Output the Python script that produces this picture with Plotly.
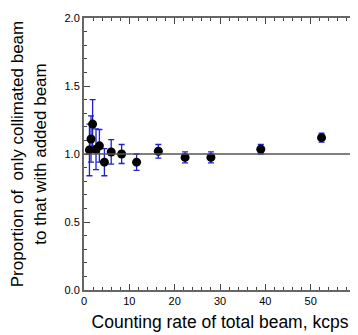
import plotly.graph_objects as go

rate_kcps = [1.2, 1.55, 1.9, 2.65, 3.4, 4.5, 6.0, 8.3, 11.6, 16.4, 22.3, 28.0, 39.0, 52.4]
proportion = [1.03, 1.11, 1.22, 1.035, 1.06, 0.94, 1.015, 1.0, 0.94, 1.02, 0.975, 0.975, 1.035, 1.12]
error = [0.19, 0.17, 0.18, 0.15, 0.12, 0.10, 0.09, 0.07, 0.06, 0.05, 0.04, 0.04, 0.035, 0.033]

fig = go.Figure()
fig.add_trace(go.Scatter(
    x=rate_kcps, y=proportion, mode="markers",
    marker=dict(color="black", size=9),
    error_y=dict(type="data", array=error, visible=True, color="#1f1fd0", thickness=1.3, width=3),
    showlegend=False,
))
fig.add_shape(type="line", xref="paper", yref="y", x0=0, x1=1, y0=1.0, y1=1.0,
              line=dict(color="#555555", width=1.5))

axis_common = dict(
    showline=True, linecolor="#666666", linewidth=2, mirror="ticks",
    ticks="inside", tickcolor="#444444", ticklen=6, tickwidth=1,
    showgrid=False, zeroline=False, automargin=False,
    tickfont=dict(family="Liberation Sans, Arial", size=11, color="black"),
)
fig.update_xaxes(range=[0, 60], dtick=10, tick0=0,
                 minor=dict(dtick=2, ticks="inside", ticklen=3, tickcolor="#444444"),
                 title=dict(text="Counting rate of total beam, kcps",
                            font=dict(family="Liberation Sans, Arial", size=17.5, color="black"),
                            standoff=10),
                 **axis_common)
fig.update_yaxes(range=[0, 2.0], dtick=0.5, tick0=0, tickformat=".1f",
                 minor=dict(dtick=0.1, ticks="inside", ticklen=3, tickcolor="#444444"),
                 title=dict(text="Proportion of  only collimated beam<br>to that with added beam",
                            font=dict(family="Liberation Sans, Arial", size=17, color="black"),
                            standoff=14),
                 **axis_common)
fig.update_layout(
    width=350, height=327,
    margin=dict(l=76, r=2, t=10, b=45),
    paper_bgcolor="white", plot_bgcolor="white",
    font=dict(family="Liberation Sans, Arial"),
)
fig.write_html("out.html")
